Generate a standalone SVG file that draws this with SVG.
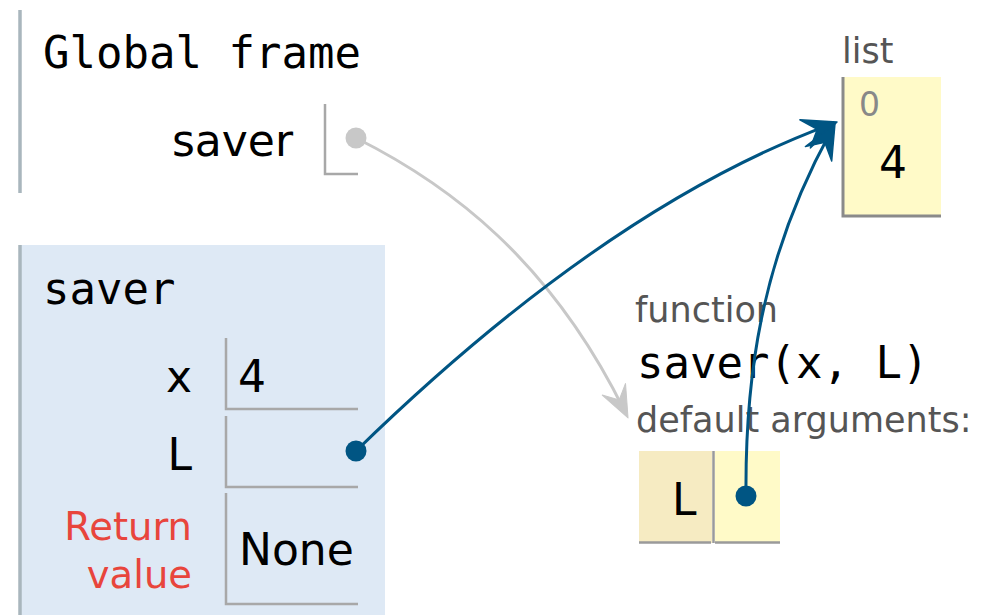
<svg xmlns="http://www.w3.org/2000/svg" width="990" height="615" viewBox="0 0 990 615">
  <style>
    .mono { font-family: "DejaVu Sans Mono", "Liberation Mono", monospace; font-size: 44px; fill: #000; }
    .sans { font-family: "DejaVu Sans", "Liberation Sans", sans-serif; }
    .name { font-size: 44px; fill: #000; text-anchor: end; }
    .val { font-size: 44px; fill: #000; }
    .tag { font-size: 35px; fill: #555; }
    .ret { font-size: 38.5px; fill: #e8453c; text-anchor: end; }
    .cellline { stroke: #a8a8a8; stroke-width: 2.5; fill: none; }
    .frameedge { stroke: #a9b6bd; stroke-width: 3.5; }
    .ref { fill: none; stroke-width: 3; }
    .ref.blue { stroke: #005583; }
    .ref.grey { stroke: #c8c8c8; }
  </style>
  <defs>
    <marker id="headBlue" markerUnits="userSpaceOnUse" viewBox="-36 -17 38 34" markerWidth="38" markerHeight="34" refX="-8" refY="0" orient="auto">
      <path d="M0,0 L-34,-15 L-21,0 L-34,15 Z" fill="#005583" stroke="#005583" stroke-width="1.5" stroke-linejoin="round"/>
    </marker>
    <marker id="headGrey" markerUnits="userSpaceOnUse" viewBox="-36 -17 38 34" markerWidth="38" markerHeight="34" refX="-8" refY="0" orient="auto">
      <path d="M0,0 L-32,-13 L-20,0 L-32,13 Z" fill="#c8c8c8" stroke="#c8c8c8" stroke-width="1" stroke-linejoin="round"/>
    </marker>
  </defs>

  <!-- global frame -->
  <g id="global-frame">
    <line class="frameedge" x1="20" y1="10" x2="20" y2="193"/>
    <text class="mono" x="43" y="68">Global frame</text>
    <text class="sans name" x="293" y="156">saver</text>
    <path class="cellline" d="M325,104 V174 H358"/>
  </g>

  <!-- active call frame -->
  <g id="saver-frame">
    <rect x="20" y="245" width="365" height="375" fill="#dee9f5"/>
    <line class="frameedge" x1="20" y1="245" x2="20" y2="615"/>
    <text class="mono" x="43" y="304">saver</text>
    <text class="sans name" x="192" y="392">x</text>
    <path class="cellline" d="M226,338 V409 H358"/>
    <text class="sans val" x="238" y="392">4</text>
    <text class="sans name" x="192" y="470">L</text>
    <path class="cellline" d="M226,416 V487 H358"/>
    <text class="sans ret" x="192" y="540">Return</text>
    <text class="sans ret" x="192" y="588">value</text>
    <path class="cellline" d="M226,493 V604 H358"/>
    <text class="sans val" x="239" y="565">None</text>
  </g>

  <!-- heap list -->
  <g id="list-obj">
    <text class="sans tag" x="842" y="63">list</text>
    <rect x="843" y="77" width="98" height="139" fill="#fffac8"/>
    <path d="M843,77 V216 H941" fill="none" stroke="#8a8a8a" stroke-width="3"/>
    <text class="sans" x="859" y="116" font-size="33" fill="#888">0</text>
    <text class="sans val" x="893" y="178" text-anchor="middle">4</text>
  </g>

  <!-- function object -->
  <g id="func-obj">
    <text class="sans tag" x="635" y="322">function</text>
    <text class="mono" x="637" y="378">saver(x, L)</text>
    <text class="sans tag" x="636" y="432">default arguments:</text>
    <rect x="639" y="451" width="73" height="92" fill="#f6ebc2"/>
    <rect x="715" y="451" width="65" height="92" fill="#fffac8"/>
    <line x1="713.5" y1="451" x2="713.5" y2="543" stroke="#9a9a9a" stroke-width="2.5"/>
    <line x1="639" y1="542.5" x2="711" y2="542.5" stroke="#9a9a9a" stroke-width="2.5"/>
    <line x1="715" y1="542.5" x2="780" y2="542.5" stroke="#9a9a9a" stroke-width="2.5"/>
    <text class="sans val" x="672" y="515">L</text>
  </g>

  <!-- references -->
  <g id="connectors">
    <path class="ref grey" d="M356,138 C450,185 550,260 624.5,410.8" marker-end="url(#headGrey)"/>
    <circle cx="356" cy="138" r="10.5" fill="#c8c8c8"/>
    <path class="ref blue" d="M356,451 C470,340 640,195 829.5,124.8" marker-end="url(#headBlue)"/>
    <circle cx="356" cy="451" r="10.5" fill="#005583"/>
    <path class="ref blue" d="M746,496 C745,380 760,260 831.1,131" marker-end="url(#headBlue)"/>
    <circle cx="746" cy="496" r="10.5" fill="#005583"/>
  </g>
</svg>
